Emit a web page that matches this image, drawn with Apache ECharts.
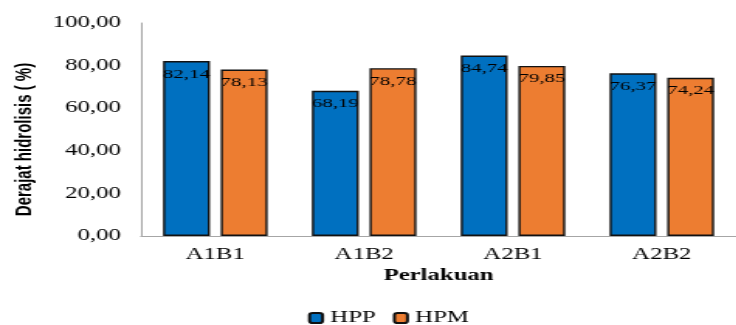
<!DOCTYPE html>
<html><head><meta charset="utf-8">
<script src="https://cdn.jsdelivr.net/npm/echarts@6/dist/echarts.min.js"></script>
<style>
html,body{margin:0;padding:0;background:#fff;overflow:hidden;}
#wrap{width:736px;height:325px;overflow:hidden;position:relative;}
#c{width:475px;height:325px;transform:scaleX(1.55);transform-origin:0 0;position:absolute;left:0;top:0;}
</style></head>
<body><div id="wrap"><div id="c"></div></div>
<script>
const categories = ['A1B1','A1B2','A2B1','A2B2'];
const hpp = [82.14, 68.19, 84.74, 76.37];
const hpm = [78.13, 78.78, 79.85, 74.24];
const seriesNames = ['HPP','HPM'];
const yTicks = {min:0, max:100, interval:20};

const fmt = v => Number(v).toFixed(2).replace('.', ',');
const chart = echarts.init(document.getElementById('c'));
const labelCfg = {show:true, position:'insideTop', distance:6, color:'#000',
  fontFamily:'Liberation Serif', fontSize:13.5, formatter:p=>fmt(p.value)};
chart.setOption({
  animation:false,
  grid:{left:88.5, top:23, width:393.5, height:213, containLabel:false},
  legend:{data:seriesNames, left:198.7, top:310, padding:0, itemWidth:8.4, itemHeight:10, itemGap:11,
    textStyle:{fontFamily:'Liberation Serif', fontSize:16, color:'#000'}},
  xAxis:{type:'category', data:categories,
    axisLine:{lineStyle:{color:'#a6a6a6', width:1}}, axisTick:{show:false},
    axisLabel:{margin:11, fontFamily:'Liberation Serif', fontSize:16, color:'#000'},
    name:'Perlakuan', nameLocation:'middle', nameGap:23,
    nameTextStyle:{fontFamily:'Liberation Serif', fontWeight:'bold', fontSize:16, color:'#000'}},
  yAxis:{type:'value', min:yTicks.min, max:yTicks.max, interval:yTicks.interval,
    axisLine:{show:true, lineStyle:{color:'#a6a6a6', width:1}}, axisTick:{show:false},
    splitLine:{show:false},
    axisLabel:{margin:13, fontFamily:'Liberation Serif', fontSize:16, color:'#000', formatter:fmt},
    name:'Derajat hidrolisis ( %)', nameLocation:'middle', nameGap:67,
    nameTextStyle:{fontFamily:'Liberation Sans', fontWeight:'bold', fontSize:15, color:'#000', padding:[0,20,0,0]}},
  series:[
    {name:seriesNames[0], type:'bar', data:hpp, barWidth:'31.5%', barGap:'23%',
     itemStyle:{color:'#0070C0', borderColor:'#111', borderWidth:1.4}, label:labelCfg},
    {name:seriesNames[1], type:'bar', data:hpm, barWidth:'31.5%',
     itemStyle:{color:'#ED7D31', borderColor:'#111', borderWidth:1.4}, label:labelCfg}
  ]
});
</script></body></html>
